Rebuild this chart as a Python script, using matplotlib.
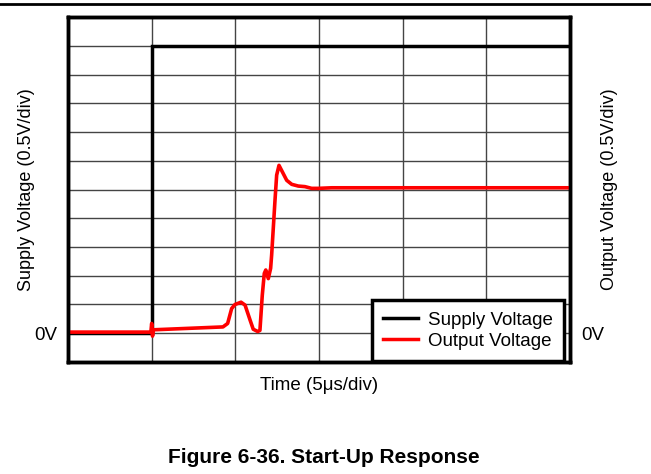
import matplotlib
matplotlib.use("Agg")
import matplotlib.pyplot as plt
from matplotlib.lines import Line2D

plt.rcParams['font.family'] = ['Liberation Sans', 'DejaVu Sans']

# supply step (us, V)
supply_t = [0.0, 5.0, 5.0, 30.0]
supply_v = [0.0, 0.0, 5.0, 5.0]

# output voltage during start-up (us, V)
out_t = [0.0, 4.95, 5.0, 5.05, 5.1, 9.26, 9.54, 9.78, 9.98, 10.34, 10.58, 10.88,
         11.07, 11.34, 11.47, 11.61, 11.73, 11.82, 11.97, 12.11, 12.17, 12.37,
         12.47, 12.61, 12.77, 13.07, 13.37, 13.76, 14.16, 14.56, 14.96, 15.76, 30.0]
out_v = [0.02, 0.02, 0.17, -0.05, 0.06, 0.11, 0.17, 0.43, 0.50, 0.54, 0.49, 0.23,
         0.07, 0.03, 0.05, 0.66, 1.04, 1.10, 0.95, 1.13, 1.36, 2.31,
         2.75, 2.92, 2.83, 2.66, 2.59, 2.56, 2.55, 2.52, 2.52, 2.53, 2.53]

fs = 13.5

fig = plt.figure(figsize=(6.51, 4.74), dpi=100)
ax = fig.add_axes([0.1045, 0.2363, 0.771, 0.7278])

# scope-style grid: 6 x 12 divisions
for x in range(5, 30, 5):
    ax.axvline(x, color='#444444', lw=1.0, zorder=1)
for k in range(1, 12):
    ax.axhline(-0.5 + 0.5 * k, color='#444444', lw=1.0, zorder=1)

ax.plot(supply_t, supply_v, color='black', lw=2.5, zorder=3, solid_joinstyle='miter')
ax.plot(out_t, out_v, color='red', lw=2.6, zorder=4)

ax.set_xlim(0, 30)
ax.set_ylim(-0.5, 5.5)
ax.set_xticks([])
ax.set_yticks([0])
ax.set_yticklabels(['0V'], fontsize=fs)
ax.tick_params(axis='y', length=0, pad=8)
for s in ax.spines.values():
    s.set_linewidth(2.5)

ax.set_xlabel('Time (5μs/div)', fontsize=fs, labelpad=11)
ax.set_ylabel('Supply Voltage (0.5V/div)', fontsize=13)
ax.yaxis.set_label_coords(-0.066, 0.5)

ax2 = ax.twinx()
ax2.set_ylim(-0.5, 5.5)
ax2.set_yticks([0])
ax2.set_yticklabels(['0V'], fontsize=fs)
ax2.tick_params(axis='y', length=0, pad=8)
ax2.set_ylabel('Output Voltage (0.5V/div)', fontsize=13)
ax2.yaxis.set_label_coords(1.062, 0.5)
for s in ax2.spines.values():
    s.set_linewidth(2.5)

handles = [Line2D([], [], color='black', lw=2.5), Line2D([], [], color='red', lw=2.5)]
leg = ax2.legend(handles, ['Supply Voltage', 'Output Voltage'], loc='lower right',
                 bbox_to_anchor=(0.988, 0.003), borderaxespad=0,
                 fontsize=fs, fancybox=False, framealpha=1, edgecolor='black',
                 handlelength=1.9, handletextpad=0.5, labelspacing=0.2,
                 borderpad=0.6)
leg.get_frame().set_linewidth(2.5)

fig.add_artist(Line2D([0, 1], [0.991, 0.991], color='black', lw=2))
fig.text(0.497, 0.035, 'Figure 6-36. Start-Up Response', ha='center', va='center',
         fontsize=15, fontweight='bold')

fig.savefig('out.png', dpi=100)
